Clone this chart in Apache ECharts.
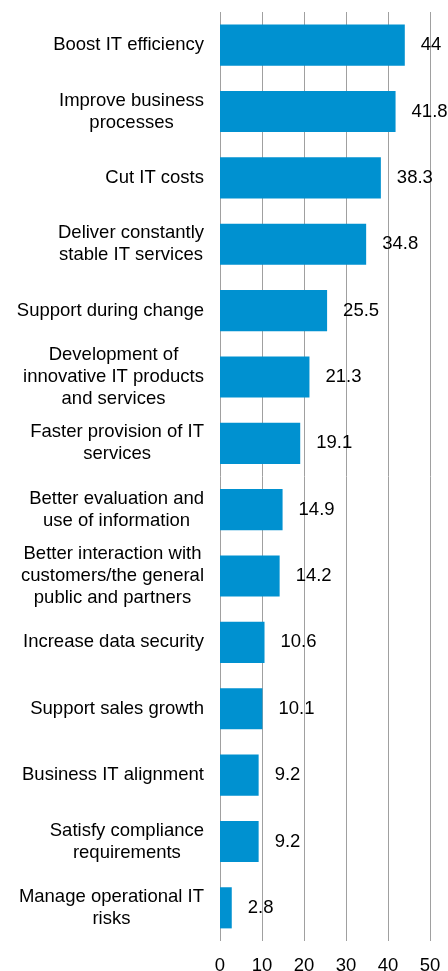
<!DOCTYPE html>
<html>
<head>
<meta charset="utf-8">
<script src="https://cdn.jsdelivr.net/npm/echarts@6/dist/echarts.min.js"></script>
<style>
  html, body { margin: 0; padding: 0; background: #fff; }
</style>
</head>
<body>
<div id="chart" style="width: 448px;height:971px;"></div>
<script>
var categories = [
  'Boost IT efficiency',
  'Improve business\nprocesses',
  'Cut IT costs',
  'Deliver constantly\nstable IT services',
  'Support during change',
  'Development of\ninnovative IT products\nand services',
  'Faster provision of IT\nservices',
  'Better evaluation and\nuse of information',
  'Better interaction with\ncustomers/the general\npublic and partners',
  'Increase data security',
  'Support sales growth',
  'Business IT alignment',
  'Satisfy compliance\nrequirements',
  'Manage operational IT\nrisks'
]
var values = [44, 41.8, 38.3, 34.8, 25.5, 21.3, 19.1, 14.9, 14.2, 10.6, 10.1, 9.2, 9.2, 2.8]

var myChart = echarts.init(document.getElementById('chart'))
var font = 'Liberation Sans, Arial, sans-serif'

var option = {
  animation: false,
  grid: {
    left: 220,
    right: 18,
    top: 12,
    bottom: 30,
    containLabel: false,
    outerBoundsMode: 'none'
  },
  xAxis: {
    type: 'value',
    min: 0,
    max: 50,
    interval: 10,
    axisLine: { show: false },
    axisTick: { show: false },
    axisLabel: {
      margin: 15,
      fontSize: 18.5,
      color: '#000',
      fontFamily: font
    },
    splitLine: {
      show: true,
      lineStyle: { color: '#a0a0a0', width: 1 }
    }
  },
  yAxis: {
    type: 'category',
    inverse: true,
    data: categories,
    axisLine: { show: false },
    axisTick: { show: false },
    axisLabel: {
      margin: 16,
      align: 'right',
      formatter: function (v) {
        return v.split('\n').map(function (s) { return '{c|' + s + '}' }).join('\n')
      },
      rich: {
        c: {
          align: 'center',
          fontSize: 18.5,
          lineHeight: 22,
          color: '#000',
          fontFamily: font
        }
      }
    }
  },
  series: [
    {
      type: 'bar',
      data: values,
      barCategoryGap: '38%',
      itemStyle: { color: '#0091d0' },
      label: {
        show: true,
        position: 'right',
        distance: 16,
        fontSize: 18.5,
        color: '#000',
        fontFamily: font
      }
    }
  ]
}

myChart.setOption(option)
</script>
</body>
</html>
